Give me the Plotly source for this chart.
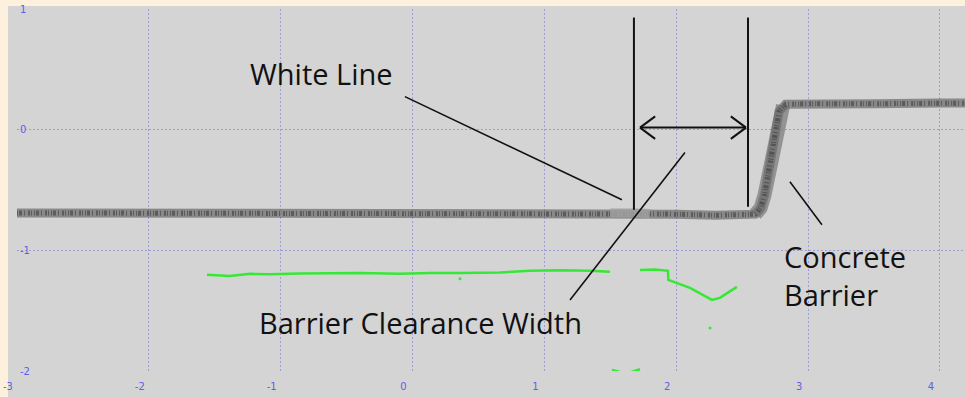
import plotly.graph_objects as go

# ---- data ----
# scanned surface profile (road, then concrete barrier)
profile_x = [-3.0, -2.5, -2.0, -1.5, -1.0, -0.5, 0.0, 0.5, 1.0, 1.5, 1.75, 2.0, 2.3,
             2.6, 2.64, 2.67, 2.71, 2.75, 2.78, 2.83, 3.0, 3.5, 4.0, 4.19]
profile_y = [-0.69, -0.69, -0.69, -0.69, -0.695, -0.70, -0.70, -0.70, -0.70, -0.69,
             -0.69, -0.70, -0.71, -0.70, -0.65, -0.54, -0.29, -0.04, 0.15, 0.21,
             0.215, 0.215, 0.22, 0.22]

# barrier face (sparser, lighter returns)
ramp_x = [2.60, 2.64, 2.67, 2.71, 2.75, 2.78, 2.81]
ramp_y = [-0.70, -0.65, -0.54, -0.29, -0.04, 0.15, 0.20]

# lighter returns on the painted white line
whiteline_x = [1.50, 1.60, 1.70, 1.80]
whiteline_y = [-0.69, -0.685, -0.69, -0.695]

# green detections (lower layer)
green_main_x = [-1.559, -1.385, -1.233, -1.081, -0.854, -0.626, -0.399, -0.095, 0.132,
                0.360, 0.663, 0.891, 1.118, 1.346, 1.497]
green_main_y = [-1.203, -1.212, -1.195, -1.199, -1.191, -1.191, -1.187, -1.195, -1.187,
                -1.187, -1.183, -1.170, -1.166, -1.170, -1.178]
green_right_x = [1.725, 1.839, 1.937, 1.94, 2.104, 2.218, 2.271, 2.331, 2.460]
green_right_y = [-1.162, -1.158, -1.170, -1.245, -1.311, -1.378, -1.411, -1.394, -1.303]
green_low_x = [1.512, 1.573, 1.634, 1.687, 1.725]
green_low_y = [-1.992, -2.008, -2.017, -2.000, -1.985]
green_stray_x = [2.256, 0.36]
green_stray_y = [-1.643, -1.235]

x_ticks = [-3, -2, -1, 0, 1, 2, 3, 4]
y_ticks = [-2, -1, 0, 1]

X_RANGE = [-3.0, 4.19]
Y_RANGE = [-2.0, 1.0]

GRAY_BG = "#d4d4d4"
BEIGE = "#fdf0dc"
GRID = "#9e9ed4"
TICKCOL = "#6060e6"
INK = "#111111"
GREEN = "#35e835"

fig = go.Figure()

# surface profile: band + speckled overlays
fig.add_trace(go.Scatter(x=ramp_x, y=ramp_y, mode="lines",
                         line=dict(color="rgba(125,125,125,0.75)", width=14),
                         hoverinfo="skip", showlegend=False))
fig.add_trace(go.Scatter(x=profile_x, y=profile_y, mode="lines",
                         line=dict(color="rgba(105,105,105,0.7)", width=9),
                         hoverinfo="skip", showlegend=False))
fig.add_trace(go.Scatter(x=profile_x, y=profile_y, mode="lines",
                         line=dict(color="rgba(55,55,55,0.55)", width=5,
                                   dash="1px,1px,3px,2px,1px,3px,2px,1px,1px,2px"),
                         hoverinfo="skip", showlegend=False))
fig.add_trace(go.Scatter(x=whiteline_x, y=whiteline_y, mode="lines",
                         line=dict(color="rgba(160,160,160,0.85)", width=9),
                         hoverinfo="skip", showlegend=False))

for gx, gy in [(green_main_x, green_main_y), (green_right_x, green_right_y),
               (green_low_x, green_low_y)]:
    fig.add_trace(go.Scatter(x=gx, y=gy, mode="lines",
                             line=dict(color=GREEN, width=2.5),
                             hoverinfo="skip", showlegend=False))
fig.add_trace(go.Scatter(x=green_stray_x, y=green_stray_y, mode="markers",
                         marker=dict(color=GREEN, size=3),
                         hoverinfo="skip", showlegend=False))

shapes = [
    # gray chart panel behind everything (extends past the grid box)
    dict(type="rect", xref="paper", yref="paper", x0=-0.0095, x1=1.0,
         y0=-0.072, y1=1.0083, fillcolor=GRAY_BG, line=dict(width=0), layer="below"),
    # vertical markers
    dict(type="line", x0=1.679, x1=1.679, y0=0.929, y1=-0.664, line=dict(color=INK, width=2)),
    dict(type="line", x0=2.544, x1=2.544, y0=0.929, y1=-0.639, line=dict(color=INK, width=2)),
    # double arrow
    dict(type="line", x0=1.725, x1=2.529, y0=0.017, y1=0.017, line=dict(color=INK, width=2)),
    dict(type="line", x0=1.725, x1=1.840, y0=0.017, y1=0.110, line=dict(color=INK, width=2)),
    dict(type="line", x0=1.725, x1=1.840, y0=0.017, y1=-0.076, line=dict(color=INK, width=2)),
    dict(type="line", x0=2.529, x1=2.414, y0=0.017, y1=0.110, line=dict(color=INK, width=2)),
    dict(type="line", x0=2.529, x1=2.414, y0=0.017, y1=-0.076, line=dict(color=INK, width=2)),
    # leader lines
    dict(type="line", x0=-0.058, x1=1.588, y0=0.274, y1=-0.581, line=dict(color=INK, width=1.6)),
    dict(type="line", x0=1.194, x1=2.066, y0=-1.411, y1=-0.190, line=dict(color=INK, width=1.6)),
    dict(type="line", x0=2.862, x1=3.105, y0=-0.432, y1=-0.788, line=dict(color=INK, width=1.6)),
]

label_font = dict(family="Open Sans, sans-serif", size=29, color=INK)
annotations = [
    dict(x=-0.692, y=0.465, text="White Line", showarrow=False, font=label_font,
         xanchor="center", yanchor="middle"),
    dict(x=0.064, y=-1.602, text="Barrier Clearance Width", showarrow=False, font=label_font,
         xanchor="center", yanchor="middle"),
    dict(x=2.802, y=-1.207, text="Concrete<br>Barrier", showarrow=False, font=label_font,
         xanchor="left", yanchor="middle", align="left"),
]

fig.update_layout(
    width=965, height=397,
    margin=dict(l=17, r=0, t=9, b=26),
    paper_bgcolor=BEIGE, plot_bgcolor=GRAY_BG,
    shapes=shapes, annotations=annotations,
    showlegend=False,
)
fig.update_xaxes(range=X_RANGE, tickvals=x_ticks, ticktext=[str(v) for v in x_ticks],
                 showgrid=True, gridcolor=GRID, griddash="2px,2px", gridwidth=1,
                 zeroline=False, showline=False, ticks="",
                 tickfont=dict(family="DejaVu Sans, sans-serif", size=10, color=TICKCOL),
                 ticklabelshift=-9, ticklabelstandoff=8, fixedrange=True)
fig.update_yaxes(range=Y_RANGE, tickvals=y_ticks, ticktext=[str(v) for v in y_ticks],
                 showgrid=True, gridcolor=GRID, griddash="2px,2px", gridwidth=1,
                 zeroline=False, showline=False, ticks="",
                 ticklabelposition="inside", ticklabeloverflow="allow",
                 tickfont=dict(family="DejaVu Sans, sans-serif", size=10, color=TICKCOL),
                 ticklabelstandoff=0, fixedrange=True)

fig.write_html(
    "out.html",
    config={"displayModeBar": False},
    post_script="document.body.style.margin='0px';"
                "document.body.style.background='" + BEIGE + "';",
)
